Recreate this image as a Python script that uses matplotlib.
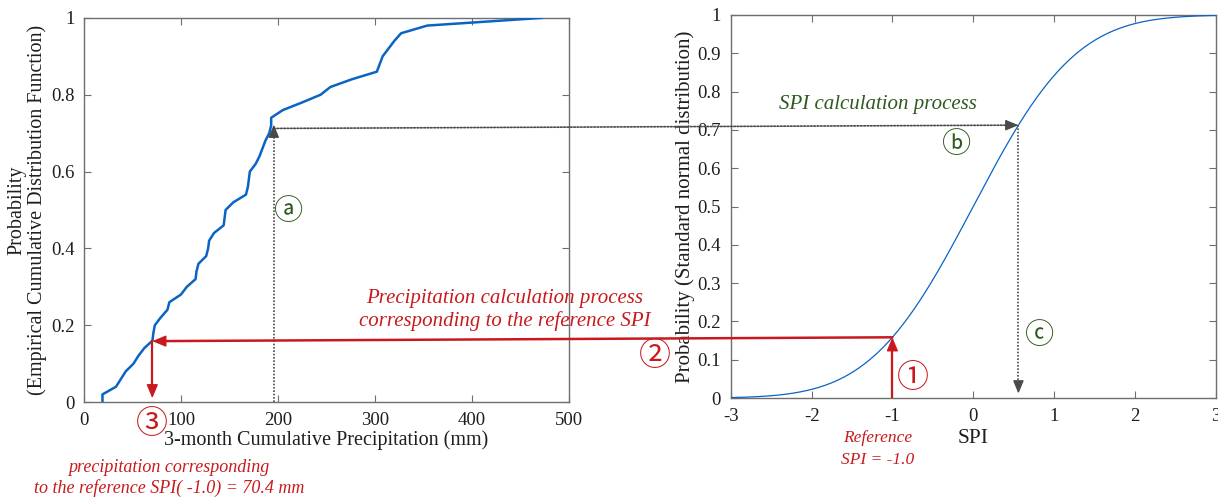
import math
import numpy as np
import matplotlib
matplotlib.use("Agg")
import matplotlib.pyplot as plt
from matplotlib.patches import ConnectionPatch

plt.rcParams['font.family'] = ['Liberation Serif', 'Noto Sans CJK SC', 'DejaVu Sans']

# Empirical CDF of 3-month cumulative precipitation (n = 50)
precip_mm = [19, 19, 33, 38, 43, 51, 56, 62, 70.6, 71.5, 73, 79, 86, 88, 100,
             106, 115, 116, 118, 126, 128, 129, 134, 144, 145, 146, 154, 167,
             169, 170, 171, 177, 181, 184, 187, 191, 193, 193, 205, 225, 244,
             254, 276, 302, 305, 308, 314, 320, 327, 354, 472]
ecdf_prob = [0.00, 0.02, 0.04, 0.06, 0.08, 0.10, 0.12, 0.14, 0.16, 0.18, 0.20,
             0.22, 0.24, 0.26, 0.28, 0.30, 0.32, 0.34, 0.36, 0.38, 0.40, 0.42,
             0.44, 0.46, 0.48, 0.50, 0.52, 0.54, 0.56, 0.58, 0.60, 0.62, 0.64,
             0.66, 0.68, 0.70, 0.72, 0.74, 0.76, 0.78, 0.80, 0.82, 0.84, 0.86,
             0.88, 0.90, 0.92, 0.94, 0.96, 0.98, 1.00]

left_xticks = [0, 100, 200, 300, 400, 500]
left_yticks = [0, 0.2, 0.4, 0.6, 0.8, 1]
right_xticks = [-3, -2, -1, 0, 1, 2, 3]
right_yticks = [0, 0.1, 0.2, 0.3, 0.4, 0.5, 0.6, 0.7, 0.8, 0.9, 1]

reference_spi = -1.0
reference_precip = 70.4
sample_precip = 195.7
sample_spi = 0.56


def norm_cdf(z):
    return 0.5 * (1.0 + math.erf(z / math.sqrt(2.0)))


spi_grid = np.linspace(-3, 3, 601)
spi_prob = np.array([norm_cdf(z) for z in spi_grid])
ref_prob = norm_cdf(reference_spi)
sample_prob = norm_cdf(sample_spi)

BLUE = '#0a64c4'
RED = '#c81a1e'
GREEN = '#2e5a1e'
GRAY = '#4a4a4a'
SPINE = '#6e6e6e'
INK = '#1e1e1e'

fig = plt.figure(figsize=(12.18, 4.97), dpi=100)
axL = fig.add_axes([0.069, 0.191, 0.398, 0.773])
axR = fig.add_axes([0.600, 0.199, 0.398, 0.771])


def style_axes(ax, xticks, yticks, xlim, ylim):
    ax.set_xlim(*xlim)
    ax.set_ylim(*ylim)
    ax.set_xticks(xticks)
    ax.set_yticks(yticks)
    ax.set_xticklabels([f"{v:g}" for v in xticks])
    ax.set_yticklabels([f"{v:g}" for v in yticks])
    ax.tick_params(direction='in', top=True, right=True, length=5, width=0.8,
                   color=SPINE, labelsize=13.5, labelcolor=INK, pad=7)
    for s in ax.spines.values():
        s.set_color(SPINE)
        s.set_linewidth(1.0)


style_axes(axL, left_xticks, left_yticks, (0, 500), (0, 1))
style_axes(axR, right_xticks, right_yticks, (-3, 3), (0, 1))

axL.plot(precip_mm, ecdf_prob, color=BLUE, lw=1.8, zorder=3)
axR.plot(spi_grid, spi_prob, color=BLUE, lw=0.9, zorder=3)

axL.set_xlabel('3-month Cumulative Precipitation (mm)', fontsize=14.5, color=INK, labelpad=1)
axL.set_ylabel('Probability\n(Empirical Cumulative Distribution Function)', fontsize=14.5,
               color=INK, labelpad=3, linespacing=1.05)
axR.set_xlabel('SPI', fontsize=15.5, color=INK, labelpad=3)
axR.set_ylabel('Probability (Standard normal distribution)', fontsize=15,
               color=INK, labelpad=2)

dot = (0, (1, 1))


def head(ax, tip, offset, color, size=13):
    ax.annotate('', xy=tip, xycoords='data', xytext=offset, textcoords='offset points',
                arrowprops=dict(arrowstyle='-|>,head_length=0.6,head_width=0.25',
                                color=color, lw=1.0, shrinkA=0, shrinkB=0,
                                mutation_scale=size), zorder=5, annotation_clip=False)


# (a) ECDF lookup: precipitation -> probability
axL.plot([sample_precip, sample_precip], [0, sample_prob - 0.01], color=GRAY, lw=1.2,
         ls=dot, zorder=4)
head(axL, (sample_precip, sample_prob + 0.01), (0, -8), GRAY)
# (b) probability carried to the standard normal CDF
con = ConnectionPatch(xyA=(sample_precip, sample_prob), coordsA=axL.transData,
                      xyB=(sample_spi - 0.08, sample_prob), coordsB=axR.transData,
                      color=GRAY, lw=1.2, ls=dot, zorder=4)
fig.add_artist(con)
head(axR, (sample_spi, sample_prob), (-8, 0), GRAY)
# (c) SPI
axR.plot([sample_spi, sample_spi], [sample_prob, 0.04], color=GRAY, lw=1.2, ls=dot, zorder=4)
head(axR, (sample_spi, 0.012), (0, 8), GRAY)

# Reference SPI -> precipitation (red path)
axR.plot([reference_spi, reference_spi], [0, ref_prob - 0.03], color=RED, lw=1.6, zorder=4)
head(axR, (reference_spi, ref_prob), (0, -9), RED, 14)
con2 = ConnectionPatch(xyA=(reference_spi, ref_prob), coordsA=axR.transData,
                       xyB=(reference_precip + 6, ref_prob), coordsB=axL.transData,
                       color=RED, lw=1.8, zorder=4)
fig.add_artist(con2)
head(axL, (reference_precip, ref_prob), (9, 0), RED, 14)
axL.plot([reference_precip, reference_precip], [ref_prob, 0.04], color=RED, lw=1.6, zorder=4)
head(axL, (reference_precip, 0.01), (0, 9), RED, 14)

# Labels and step markers
fig.text(0.2373, 0.5714, 'ⓐ', color=GREEN, fontsize=21, ha='center', va='center')
fig.text(0.7857, 0.708, 'ⓑ', color=GREEN, fontsize=21, ha='center', va='center')
fig.text(0.8539, 0.322, 'ⓒ', color=GREEN, fontsize=21, ha='center', va='center')
fig.text(0.7496, 0.2374, '①', color=RED, fontsize=23, ha='center', va='center')
fig.text(0.5378, 0.2817, '②', color=RED, fontsize=23, ha='center', va='center')
fig.text(0.1248, 0.1449, '③', color=RED, fontsize=23, ha='center', va='center')

fig.text(0.7209, 0.789, 'SPI calculation process', color=GREEN, fontsize=15,
         style='italic', ha='center', va='center')
fig.text(0.4146, 0.376, 'Precipitation calculation process\ncorresponding to the reference SPI',
         color=RED, fontsize=15, style='italic', ha='center', va='center', linespacing=1.25)
fig.text(0.7209, 0.0966, 'Reference\nSPI = -1.0', color=RED, fontsize=12.5,
         style='italic', ha='center', va='center', linespacing=1.5)
fig.text(0.1388, 0.0382, 'precipitation corresponding\nto the reference SPI( -1.0) = 70.4 mm',
         color=RED, fontsize=13, style='italic', ha='center', va='center', linespacing=1.2)

fig.savefig('out.png', dpi=100, facecolor='white')
